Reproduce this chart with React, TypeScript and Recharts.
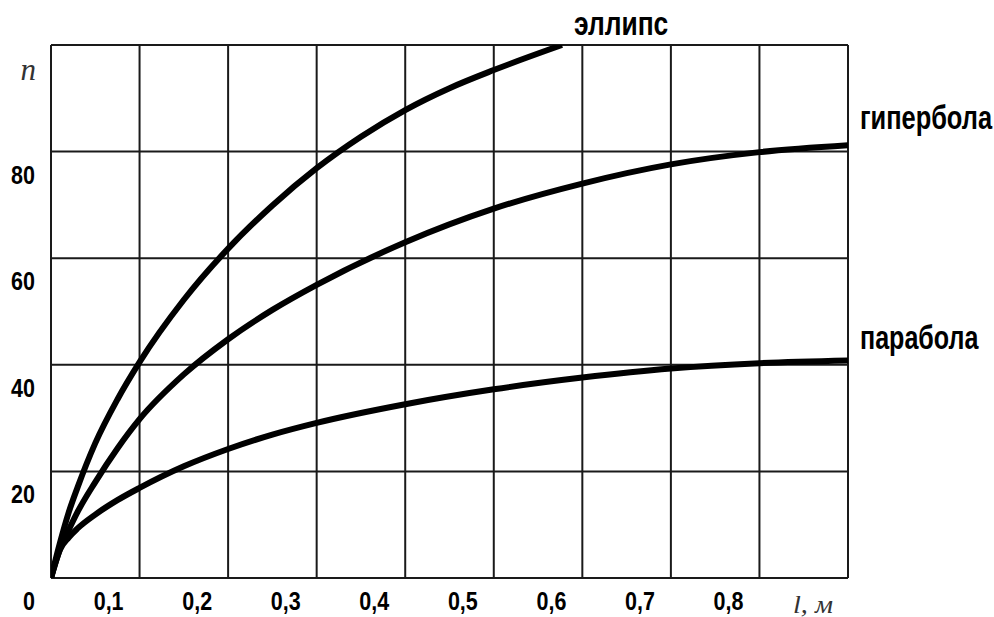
import React from 'react';
import { LineChart, Line, XAxis, YAxis, CartesianGrid } from 'recharts';

// ---- data ----
const xTicks = [0, 0.1, 0.2, 0.3, 0.4, 0.5, 0.6, 0.7, 0.8, 0.9];
const xTickLabels = ['', '0,1', '0,2', '0,3', '0,4', '0,5', '0,6', '0,7', '0,8', 'l, м'];
const yTicks = [0, 20, 40, 60, 80, 100];
const yTickLabels = ['0', '20', '40', '60', '80', 'n'];

const seriesNames = ['эллипс', 'гипербола', 'парабола'];

const ellipseL = [0, 0.01, 0.02, 0.03, 0.05, 0.075, 0.1, 0.15, 0.2, 0.25, 0.3, 0.35, 0.4, 0.45, 0.5, 0.577];
const ellipseN = [0, 6.5, 12.3, 17, 25.3, 33.5, 40.5, 52.2, 61.8, 69.9, 76.9, 82.8, 87.8, 91.9, 95.3, 100];

const hyperbolaL = [0, 0.01, 0.02, 0.03, 0.05, 0.075, 0.1, 0.15, 0.2, 0.25, 0.3, 0.4, 0.5, 0.6, 0.7, 0.8, 0.9];
const hyperbolaN = [0, 5.3, 9.0, 12.4, 18.0, 24.3, 29.8, 38.2, 44.8, 50.3, 55.0, 63.0, 69.3, 74.0, 77.6, 79.9, 81.2];

const parabolaL = [0, 0.01, 0.02, 0.03, 0.05, 0.075, 0.1, 0.15, 0.2, 0.25, 0.3, 0.4, 0.5, 0.6, 0.7, 0.8, 0.9];
const parabolaN = [0, 5.3, 7.6, 9.3, 11.9, 14.6, 16.9, 20.95, 24.2, 26.9, 29.1, 32.6, 35.4, 37.6, 39.3, 40.3, 40.8];

const toRows = (ls: number[], ns: number[]) => ls.map((l, i) => ({ l, n: ns[i] }));
const ellipseData = toRows(ellipseL, ellipseN);
const hyperbolaData = toRows(hyperbolaL, hyperbolaN);
const parabolaData = toRows(parabolaL, parabolaN);

const DIGIT_FONT = '"Liberation Sans", Arial, sans-serif';
const SERIF_FONT = '"Liberation Serif", "Times New Roman", serif';

const XTick = (props: any) => {
  const { x, y, payload } = props;
  const i = xTicks.indexOf(payload.value);
  const label = xTickLabels[i >= 0 ? i : 0];
  if (!label) return null;
  if (i === xTicks.length - 1) {
    return (
      <text x={x - 15} y={y + 35} textAnchor="end" fontFamily={SERIF_FONT} fontStyle="italic"
        fontSize={25} fill="#333" textLength={40} lengthAdjust="spacingAndGlyphs">
        {label}
      </text>
    );
  }
  return (
    <text transform={`translate(${x - 16},${y + 32}) scale(0.86,1)`} textAnchor="end"
      fontFamily={DIGIT_FONT} fontWeight="bold" fontSize={25} fill="#000">
      {label}
    </text>
  );
};

const YTick = (props: any) => {
  const { x, y, payload } = props;
  const i = yTicks.indexOf(payload.value);
  const label = yTickLabels[i >= 0 ? i : 0];
  if (i === yTicks.length - 1) {
    return (
      <text x={x - 15} y={y + 35} textAnchor="end" fontFamily={SERIF_FONT} fontStyle="italic"
        fontSize={31} fill="#333">
        {label}
      </text>
    );
  }
  return (
    <text transform={`translate(${x - 16},${y + 32}) scale(0.86,1)`} textAnchor="end"
      fontFamily={DIGIT_FONT} fontWeight="bold" fontSize={25} fill="#000">
      {label}
    </text>
  );
};

const makeEndLabel = (text: string, lastIndex: number, dx: number, dy: number, sx: number) =>
  (props: any) => {
    const { x, y, index } = props;
    if (index !== lastIndex) return <g key={`l-${index}`} />;
    return (
      <text key={`l-${index}`} transform={`translate(${x + dx},${y + dy}) scale(${sx},1)`}
        fontFamily={DIGIT_FONT} fontWeight="bold" fontSize={33} fill="#000">
        {text}
      </text>
    );
  };

export default function App() {
  return (
    <div style={{ position: 'absolute', left: 0, top: 0, width: 994, height: 617, background: '#fff' }}>
      <LineChart width={994} height={617} margin={{ top: 45, right: 146, bottom: 0, left: 0 }}>
        <CartesianGrid stroke="#1a1a1a" strokeWidth={2} />
        <XAxis type="number" dataKey="l" domain={[0, 0.9]} ticks={xTicks} interval={0}
          axisLine={false} tickLine={false} tickSize={0} tickMargin={0} height={39}
          tick={<XTick />} allowDataOverflow />
        <YAxis type="number" dataKey="n" domain={[0, 100]} ticks={yTicks} interval={0}
          axisLine={false} tickLine={false} tickSize={0} tickMargin={0} width={51}
          tick={<YTick />} allowDataOverflow />
        <Line data={ellipseData} dataKey="n" type="monotone" stroke="#000" strokeWidth={6}
          dot={false} isAnimationActive={false}
          label={makeEndLabel(seriesNames[0], ellipseData.length - 1, 12, -10, 0.8)} />
        <Line data={hyperbolaData} dataKey="n" type="monotone" stroke="#000" strokeWidth={6}
          dot={false} isAnimationActive={false}
          label={makeEndLabel(seriesNames[1], hyperbolaData.length - 1, 12, -16, 0.77)} />
        <Line data={parabolaData} dataKey="n" type="monotone" stroke="#000" strokeWidth={6}
          dot={false} isAnimationActive={false}
          label={makeEndLabel(seriesNames[2], parabolaData.length - 1, 12, -12, 0.76)} />
      </LineChart>
    </div>
  );
}
